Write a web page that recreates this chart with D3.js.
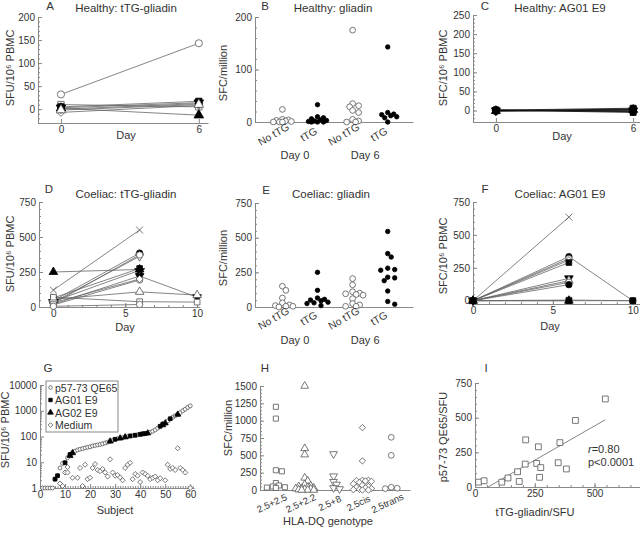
<!DOCTYPE html>
<html><head><meta charset="utf-8">
<script src="https://cdn.jsdelivr.net/npm/d3@7"></script>
<style>
body{margin:0;background:#fff;}
svg{font-family:"Liberation Sans",Arial,sans-serif;}
</style></head><body>
<svg id="c" width="640" height="533"></svg>
<script>
// ---------- DATA ----------
// Panel A: Healthy tTG-gliadin (day 0, day 6)
const aDays = [0, 6];
const aSeries = [[32,143],[10,5],[5,17],[2,-13],[-7,8],[0,12],[3,14],[-2,10]];
const aShapes = ["circle-o","square-o","square","triangle","diamond-o","circle","triangle-down","triangle-o"];
// Panel B: Healthy gliadin
const bCats = ["No tTG","tTG","No tTG","tTG"];
const bDays = ["Day 0","Day 6"];
const b0n = [24,5,4,3,2,1,0,0,0];
const b0t = [33,10,8,6,4,3,2,1,0,0,0];
const b6n = [175,35,31,29,22,18,5,2,0,0];
const b6t = [143,18,15,14,12,10,8,0];
// Panel C: Healthy AG01 E9
const cDays = [0, 6];
const cSeries = [[0,4],[2,-3],[-1,2],[1,-5],[0,0],[-2,3],[1,6],[0,-2]];
const cShapes = ["square","circle","triangle","square","triangle-down","circle","square","diamond"];
// Panel D: Coeliac tTG-gliadin (day 0, 6, 10)
const dDays = [0, 6, 10];
const dSeries = [[121,550,null],[45,385,null],[35,362,null],[25,372,null],[250,268,null],[65,275,null],
  [40,262,null],[20,221,70],[15,193,null],[30,200,null],[55,108,85],[70,38,35],[5,18,null]];
const dShapes = ["x","circle","triangle-down-o","circle-o","triangle","square","star","triangle-down","circle-o","diamond-o","triangle-o","square-o","circle-o"];
// Panel E: Coeliac gliadin
const e0n = [150,120,65,30,15,10,5,5,0];
const e0t = [250,120,65,55,50,45,35,30,25,10];
const e6n = [205,160,110,100,95,90,85,60,25,15,5,5];
const e6t = [545,385,360,280,270,265,215,210,190,115,40,20];
// Panel F: Coeliac AG01 E9
const fDays = [0, 6, 10];
const fSeries = [[0,635,null],[0,335,0],[0,320,null],[0,308,null],[0,290,null],[0,170,null],[0,152,null],
  [0,140,null],[0,122,null],[0,5,0],[0,0,0],[0,0,null]];
const fShapes = ["x","circle","circle-o","diamond-o","square","triangle-down","triangle-o","circle-o","circle","square-o","square","triangle"];
// Panel G: subjects
const gPeptide = [1,1,1,1,1,2.2,3,6,9,10,15,20,24,27,30,32,34,36,38,40,43,45,47,49,52,56,60,65,70,76,
  82,86,90,95,100,105,108,112,116,120,125,130,135,145,160,180,210,250,290,330,400,480,560,640,720,850,1000,1150,1350,1550];
const gAG01 = [[6,2.2],[7,3],[10,9.5],[12,20],[30,78],[36,105],[38,112],[40,122],[41,127],[42,130],[48,250],[49,300],[52,490]];
const gAG02 = [[12,18],[13,23],[28,65],[32,86],[34,95],[43,135],[49,280],[50,330],[55,720]];
const gMedium = [[8,1.5],[9,1.2],[10,4],[11,6.5],[11,4],[13,2.5],[15,2.5],[16,6],[17,1.2],[18,8],[19,2.2],[20,2.5],
  [21,6],[22,8.5],[23,5],[24,4.5],[25,5.5],[26,4],[27,2.8],[28,13],[29,4],[30,3],[31,3.2],[32,2.6],[33,2],[34,6],
  [35,8],[36,9.5],[37,2.2],[38,3.5],[39,3],[40,1.7],[41,4],[42,3.5],[43,3],[44,2.2],[45,2.5],[46,2.8],[47,2],
  [48,2.4],[50,2],[51,8],[52,5.5],[53,6],[54,5],[55,35],[56,6],[57,5],[58,4],[60,1]];
const gLegend = ["p57-73 QE65","AG01 E9","AG02 E9","Medium"];
// Panel H: HLA-DQ genotype
const hCats = ["2.5+2.5","2.5+2.2","2.5+8","2.5cis","2.5trans"];
const hValues = [
  [1200,1030,285,270,100,65,50,40,35,30],
  [1500,600,510,175,130,80,60,50,40,30,25,20,15,10,5,0,0,0],
  [520,200,120,80,30,15],
  [900,420,140,140,135,130,125,110,90,70,50,40,30,20,10,5,0,0],
  [760,500,40,25,20]];
const hShapes = ["square-o","triangle-o","triangle-down-o","diamond-o","circle-o"];
// Panel I: correlation
const iX = [15,38,112,138,178,185,210,212,258,265,270,275,348,355,382,420,545];
const iY = [35,45,35,65,110,40,165,340,170,290,70,140,175,320,130,480,635];

// ---------- HELPERS ----------
const svg = d3.select("#c");
const fmt = d3.format("d");
const AX = "#888";
const TXT = "#333";
function styleAx(g){
  g.select(".domain").attr("stroke",AX);
  g.selectAll(".tick line").attr("stroke",AX);
  g.selectAll("text").attr("fill",TXT).style("font-size","10px").style("font-family","Liberation Sans, Arial, sans-serif");
}
function range(a,b,s){const r=[];for(let v=a;v<=b+1e-9;v+=s)r.push(+v.toFixed(6));return r;}
function axes(p){
  const xl = p.x.range()[0], yb = p.y.range()[0];
  const gy = svg.append("g").attr("transform",`translate(${xl},0)`)
    .call(d3.axisLeft(p.y).tickValues(p.yTicks).tickSize(-4).tickSizeOuter(0).tickPadding(3).tickFormat(p.yFmt||fmt));
  styleAx(gy);
  if(p.yMinor){
    const g2 = svg.append("g").attr("transform",`translate(${xl},0)`)
      .call(d3.axisLeft(p.y).tickValues(p.yMinor).tickSize(-2).tickSizeOuter(0).tickFormat(""));
    g2.select(".domain").remove(); styleAx(g2);
  }
  const gx = svg.append("g").attr("transform",`translate(0,${yb})`)
    .call(d3.axisBottom(p.x).tickValues(p.xTicks||[]).tickSize(-4).tickSizeOuter(0).tickPadding(3).tickFormat(p.xFmt||fmt));
  styleAx(gx);
  if(p.xMinor){
    const g3 = svg.append("g").attr("transform",`translate(0,${yb})`)
      .call(d3.axisBottom(p.x).tickValues(p.xMinor).tickSize(-2).tickSizeOuter(0).tickFormat(""));
    g3.select(".domain").remove(); styleAx(g3);
  }
}
const SYM = {circle:d3.symbolCircle, square:d3.symbolSquare, triangle:d3.symbolTriangle,
  "triangle-down":d3.symbolTriangle, diamond:d3.symbolDiamond2, x:d3.symbolTimes, star:d3.symbolStar};
function mark(g,cx,cy,name,size){
  const open = name.endsWith("-o");
  const base = open ? name.slice(0,-2) : name;
  let tr = `translate(${cx},${cy})`;
  if(base==="triangle-down") tr += " rotate(180)";
  g.append("path").attr("d", d3.symbol(SYM[base], size)()).attr("transform",tr)
    .attr("fill", base==="x" ? "none" : (open ? "#fff" : "#000"))
    .attr("stroke", open||base==="x" ? "#555" : "#000").attr("stroke-width",0.8);
}
function text(x,y,s,opt={}){
  const t = svg.append("text").attr("x",x).attr("y",y).text(s)
    .attr("text-anchor",opt.anchor||"middle").style("font-size",(opt.size||11)+"px").attr("fill",TXT);
  if(opt.rot) t.attr("transform",`rotate(${opt.rot},${x},${y})`);
  if(opt.mid) t.attr("dominant-baseline","central");
  return t;
}
function ytitle(x,y,s){ text(x,y,s,{rot:-90,mid:true}); }
function linePanel(x,y,days,series,shapes,size,lineCol){
  const g = svg.append("g");
  const line = d3.line().defined(d=>d[1]!=null).x(d=>x(d[0])).y(d=>y(d[1]));
  series.forEach(s=>{
    const pts = days.map((d,i)=>[d,s[i]]);
    g.append("path").attr("d",line(pts)).attr("fill","none").attr("stroke",lineCol||"#666").attr("stroke-width",0.8);
  });
  series.forEach((s,k)=>{
    days.forEach((d,i)=>{ if(s[i]!=null) mark(g,x(d),y(s[i]),shapes[k],size); });
  });
}
// deterministic dodge: nearest free horizontal slot within maxOff, else the least crowded slot
function swarm(values,cx,y,minDist,step,maxOff){
  const placed=[];
  values.forEach(v=>{
    const py=y(v);
    const cands=[0];
    for(let k=1;k*step<=maxOff;k++){cands.push(k*step,-k*step);}
    let best=null,bestD=-1;
    for(const off of cands){
      const px=cx+off;
      const d=placed.length?d3.min(placed,p=>Math.hypot(p[0]-px,p[1]-py)):Infinity;
      if(d>=minDist){best=px;break;}
      if(d>bestD){bestD=d;best=px;}
    }
    placed.push([best,py]);
  });
  return placed;
}
function catScatter(x,y,groups,shapes,minDist,step,maxOff){
  const g=svg.append("g");
  groups.forEach((vals,i)=>{
    const open = shapes[i].endsWith("-o");
    swarm(vals,x(i+0.78),y,minDist,step,maxOff).forEach(p=>mark(g,p[0],p[1],shapes[i],open?26:16));
  });
}

// ---------- PANEL A ----------
{
  const x = d3.scaleLinear([-1,6.4],[38,208]);
  const y = d3.scaleLinear([-30,200],[123,17]);
  axes({x,y,xTicks:[0,6],yTicks:[0,50,100,150,200],yMinor:range(-30,200,10)});
  linePanel(x,y,aDays,aSeries,aShapes,40);
  text(50,10,"A",{size:11.5});
  text(126,12,"Healthy: tTG-gliadin",{size:11.5});
  text(126,139,"Day");
  ytitle(10,68,"SFU/10⁶ PBMC");
}
// ---------- PANEL B ----------
{
  const x = d3.scaleLinear([0,4.5],[255,413]);
  const y = d3.scaleLinear([0,200],[122,17]);
  axes({x,y,yTicks:[0,100,200],yMinor:range(0,200,20)});
  catScatter(x,y,[b0n,b0t,b6n,b6t],["circle-o","circle","circle-o","circle"],4,3,10);
  bCats.forEach((c,i)=>text(x(i+0.78)-9,134,c,{rot:-30,mid:true,size:10.5}));
  bDays.forEach((d,i)=>text(x(2*i+1.28)-5,159,d));
  text(265,10,"B",{size:11.5});
  text(333,12,"Healthy: gliadin",{size:11.5});
  ytitle(223,73,"SFC/million");
}
// ---------- PANEL C ----------
{
  const x = d3.scaleLinear([-1,6.3],[473,640]);
  const y = d3.scaleLinear([-30,250],[122,15]);
  axes({x,y,xTicks:[0,6],yTicks:[0,50,100,150,200,250],yMinor:range(-30,250,10)});
  linePanel(x,y,cDays,cSeries,cShapes,36,"#111");
  text(485,10,"C",{size:11.5});
  text(560,12,"Healthy: AG01 E9",{size:11.5});
  text(562,140,"Day");
  ytitle(443,68,"SFC/10⁶ PBMC");
}
// ---------- PANEL D ----------
{
  const x = d3.scaleLinear([-1,10.2],[39,200]);
  const y = d3.scaleLinear([0,750],[307,202]);
  axes({x,y,xTicks:[0,5,10],xMinor:range(-1,10,1),yTicks:[0,250,500,750],yMinor:range(0,750,50)});
  linePanel(x,y,dDays,dSeries,dShapes,32);
  text(49,193,"D",{size:11.5});
  text(126,198,"Coeliac: tTG-gliadin",{size:11.5});
  text(125,331,"Day");
  ytitle(10,254,"SFU/10⁶ PBMC");
}
// ---------- PANEL E ----------
{
  const x = d3.scaleLinear([0,4.5],[255,413]);
  const y = d3.scaleLinear([0,750],[307,203]);
  axes({x,y,yTicks:[0,250,500,750],yMinor:range(0,750,50)});
  catScatter(x,y,[e0n,e0t,e6n,e6t],["circle-o","circle","circle-o","circle"],4.5,3.5,11);
  bCats.forEach((c,i)=>text(x(i+0.78)-9,318,c,{rot:-30,mid:true,size:10.5}));
  bDays.forEach((d,i)=>text(x(2*i+1.28)-5,344,d));
  text(266,194,"E",{size:11.5});
  text(331,198,"Coeliac: gliadin",{size:11.5});
  ytitle(223,258,"SFC/million");
}
// ---------- PANEL F ----------
{
  const x = d3.scaleLinear([0,10.45],[473,640]);
  const y = d3.scaleLinear([-25,750],[304,202]);
  axes({x,y,xTicks:[0,5,10],xMinor:range(0,10,1),yTicks:[0,250,500,750],yMinor:range(0,750,50)});
  linePanel(x,y,fDays,fSeries,fShapes,32);
  text(485,193,"F",{size:11.5});
  text(560,198,"Coeliac: AG01 E9",{size:11.5});
  text(550,330,"Day");
  ytitle(443,256,"SFC/10⁶ PBMC");
}
// ---------- PANEL G ----------
{
  const x = d3.scaleLinear([0,61.5],[40,194]);
  const y = d3.scaleLog([1,10000],[488,385]);
  const minor=[]; [1,10,100,1000].forEach(b=>{for(let k=2;k<10;k++)minor.push(b*k);});
  axes({x,y,xTicks:range(0,60,10),xMinor:range(0,61,1),yTicks:[1,10,100,1000,10000],yMinor:minor});
  const g=svg.append("g");
  gMedium.forEach(d=>mark(g,x(d[0]),y(d[1]),"diamond-o",16));
  gPeptide.forEach((v,i)=>mark(g,x(i+1),y(v),"circle-o",12));
  gAG01.forEach(d=>mark(g,x(d[0]),y(d[1]),"square",14));
  gAG02.forEach(d=>mark(g,x(d[0]),y(d[1]),"triangle",16));
  // legend
  svg.append("rect").attr("x",46).attr("y",381).attr("width",72).attr("height",51).attr("fill","#fff").attr("stroke",AX);
  const ls=["circle-o","square","triangle","diamond-o"], lz=[10,12,14,14];
  gLegend.forEach((s,i)=>{ mark(svg,50.5,387.5+i*12.5,ls[i],lz[i]); text(55,391.5+i*12.5,s,{anchor:"start",size:10.5}); });
  text(48,372,"G",{size:11.5});
  text(115,514,"Subject");
  ytitle(5,430,"SFU/10⁶ PBMC");
}
// ---------- PANEL H ----------
{
  const x = d3.scaleLinear([0,5.2],[260,410]);
  const y = d3.scaleLinear([0,1500],[490,386]);
  axes({x,y,yTicks:[0,250,500,750,1000,1250,1500],yMinor:range(0,1500,50)});
  const g=svg.append("g");
  hValues.forEach((vals,i)=>swarm(vals,x(i+0.55),y,3.8,3,11).forEach(p=>mark(g,p[0],p[1],hShapes[i],26)));
  hCats.forEach((c,i)=>text(x(i+0.55)-4,503,c,{rot:-25,mid:true,size:9.5}));
  text(265,372,"H",{size:11.5});
  text(328,525,"HLA-DQ genotype");
  ytitle(228,428,"SFC/million");
}
// ---------- PANEL I ----------
{
  const x = d3.scaleLinear([0,690],[475,640]);
  const y = d3.scaleLinear([0,750],[487,383]);
  axes({x,y,xTicks:[0,250,500],xMinor:range(0,650,50),yTicks:[0,250,500,750],yMinor:range(0,750,50)});
  const mx=d3.mean(iX), my=d3.mean(iY);
  const b=d3.sum(iX,(v,i)=>(v-mx)*(iY[i]-my))/d3.sum(iX,v=>(v-mx)*(v-mx));
  const a=my-b*mx;
  const x0=Math.max(0,-a/b), x1=d3.max(iX);
  svg.append("line").attr("x1",x(x0)).attr("y1",y(a+b*x0)).attr("x2",x(x1)).attr("y2",y(a+b*x1))
    .attr("stroke","#666").attr("stroke-width",0.8);
  const g=svg.append("g");
  iX.forEach((v,i)=>mark(g,x(v),y(iY[i]),"square-o",34));
  const t=text(588,453,"",{anchor:"start",size:11});
  t.append("tspan").attr("font-style","italic").text("r");
  t.append("tspan").text("=0.80");
  text(588,466,"p<0.0001",{anchor:"start",size:11});
  text(486,372,"I",{size:11.5});
  text(535,516,"tTG-gliadin/SFU");
  ytitle(443,437,"p57-73 QE65/SFU");
}
</script></body></html>
